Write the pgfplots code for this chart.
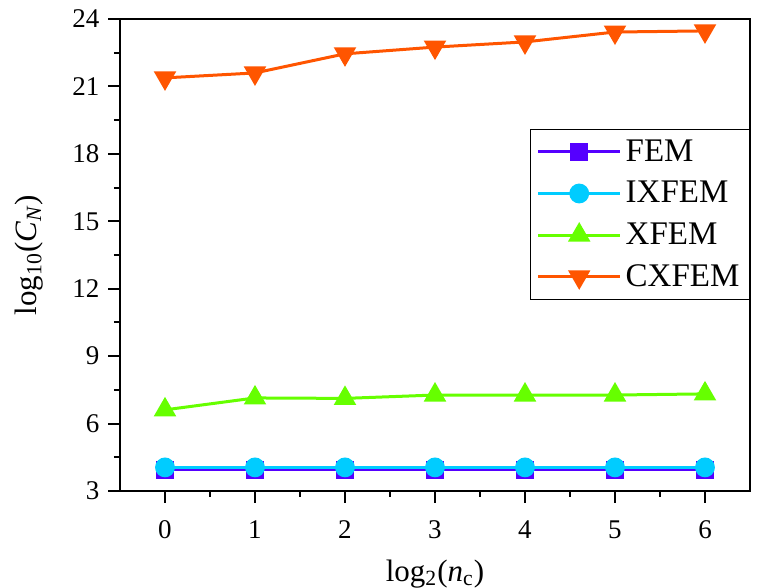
\documentclass[border=0pt]{standalone}
\usepackage{fontspec}
\setmainfont{Liberation Serif}
\usepackage{pgfplots}
\pgfplotsset{compat=1.18}
\definecolor{cfem}{HTML}{5500FF}
\definecolor{cix}{HTML}{00CCFF}
\definecolor{cx}{HTML}{66FF00}
\definecolor{ccx}{HTML}{FF5500}
\begin{document}
\begin{tikzpicture}
\begin{axis}[
  scale only axis,
  width=315pt, height=236pt,
  xmin=-0.5, xmax=6.5, ymin=3, ymax=24,
  xtick={0,1,2,3,4,5,6},
  ytick={3,6,9,12,15,18,21,24},
  minor x tick num=1, minor y tick num=1,
  tick pos=left,
  tick align=outside,
  major tick length=5.8pt, minor tick length=3pt,
  every tick/.style={black, line width=1pt},
  axis line style={line width=1pt},
  /pgf/number format/assume math mode=true,
  tick label style={font=\fontsize{13.5}{15}\selectfont},
  yticklabel style={xshift=-1pt},
  xticklabel style={yshift=-5.5pt},
  label style={font=\fontsize{15.5}{18}\selectfont},
  xlabel={log\textsubscript{2}(\textit{n}\textsubscript{c})},
  ylabel={log\textsubscript{10}(\textit{C}\textsubscript{\textit{N}})},
  xlabel style={yshift=-3.5pt},
  ylabel style={yshift=7.5pt},
  legend style={at={(rel axis cs:1,0.767)}, anchor=north east,
    draw=black, line width=0.6pt, font=\fontsize{16.5}{19}\selectfont,
    row sep=4.5pt, inner sep=3pt},
  legend cell align=left,
  legend image post style={line width=1.5pt},
  legend image code/.code={
    \draw[mark repeat=2,mark phase=2] plot coordinates {(0cm,0cm) (0.72cm,0cm) (1.44cm,0cm)};
  },
  every axis plot/.append style={line width=1.5pt},
]
\addplot[cfem, mark=square*, mark size=3.7pt] coordinates {(0,3.95) (1,3.95) (2,3.95) (3,3.95) (4,3.95) (5,3.95) (6,3.95)};
\addlegendentry{FEM}
\addplot[cix, mark=*, mark size=4.2pt] coordinates {(0,4.05) (1,4.05) (2,4.05) (3,4.05) (4,4.05) (5,4.05) (6,4.05)};
\addlegendentry{IXFEM}
\addplot[cx, mark=triangle*, mark size=5pt] coordinates {(0,6.61) (1,7.14) (2,7.12) (3,7.27) (4,7.27) (5,7.27) (6,7.32)};
\addlegendentry{XFEM}
\addplot[ccx, mark=triangle*, mark options={rotate=180}, mark size=5pt] coordinates {(0,21.38) (1,21.6) (2,22.45) (3,22.75) (4,22.98) (5,23.42) (6,23.47)};
\addlegendentry{CXFEM}
\end{axis}
\pgfresetboundingbox
\path ([shift={(-60pt,-48.5pt)}]current axis.south west) rectangle ([shift={(13.5pt,9.5pt)}]current axis.north east);
\end{tikzpicture}
\end{document}
